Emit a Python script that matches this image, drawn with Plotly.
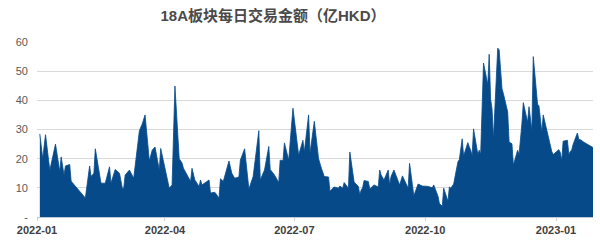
import plotly.graph_objects as go

dates = [
    "2022-01-03","2022-01-05","2022-01-07","2022-01-10","2022-01-14","2022-01-17","2022-01-18","2022-01-20","2022-01-21","2022-01-24","2022-01-25",
    "2022-02-04","2022-02-07","2022-02-08","2022-02-10","2022-02-11","2022-02-15","2022-02-18","2022-02-21","2022-02-22","2022-02-25","2022-02-28",
    "2022-03-02","2022-03-03","2022-03-04","2022-03-07","2022-03-10","2022-03-14","2022-03-16","2022-03-18","2022-03-21","2022-03-23","2022-03-25","2022-03-28","2022-03-29",
    "2022-04-04","2022-04-06","2022-04-08","2022-04-11","2022-04-13","2022-04-14","2022-04-19","2022-04-20","2022-04-22","2022-04-25","2022-04-26","2022-04-27",
    "2022-05-02","2022-05-03","2022-05-06","2022-05-09","2022-05-10","2022-05-12","2022-05-16","2022-05-18","2022-05-20","2022-05-23","2022-05-24","2022-05-27","2022-05-30",
    "2022-06-02","2022-06-06","2022-06-07","2022-06-10","2022-06-13","2022-06-14","2022-06-17","2022-06-20","2022-06-21","2022-06-23","2022-06-24","2022-06-27","2022-06-30",
    "2022-07-04","2022-07-07","2022-07-08","2022-07-11","2022-07-12","2022-07-15","2022-07-18","2022-07-20","2022-07-22","2022-07-25","2022-07-26","2022-07-29",
    "2022-08-01","2022-08-02","2022-08-04","2022-08-05","2022-08-08","2022-08-09","2022-08-12","2022-08-15","2022-08-16","2022-08-17","2022-08-18","2022-08-19","2022-08-22","2022-08-23","2022-08-24","2022-08-26","2022-08-29","2022-08-30","2022-08-31",
    "2022-09-02","2022-09-05","2022-09-06","2022-09-07","2022-09-09","2022-09-13","2022-09-15","2022-09-19","2022-09-20","2022-09-22","2022-09-23","2022-09-26","2022-09-29",
    "2022-10-03","2022-10-05","2022-10-06","2022-10-07","2022-10-10","2022-10-11","2022-10-13","2022-10-14","2022-10-17","2022-10-18","2022-10-19","2022-10-21","2022-10-24","2022-10-25","2022-10-27","2022-10-28","2022-10-31",
    "2022-11-01","2022-11-02","2022-11-03","2022-11-04","2022-11-07","2022-11-08","2022-11-09","2022-11-10","2022-11-11","2022-11-14","2022-11-15","2022-11-16","2022-11-17","2022-11-18","2022-11-21","2022-11-22","2022-11-23","2022-11-24","2022-11-25","2022-11-28","2022-11-29","2022-11-30",
    "2022-12-01","2022-12-02","2022-12-05","2022-12-06","2022-12-07","2022-12-08","2022-12-09","2022-12-12","2022-12-13","2022-12-14","2022-12-15","2022-12-16","2022-12-19","2022-12-20","2022-12-21","2022-12-22","2022-12-23","2022-12-28","2022-12-29","2022-12-30",
    "2023-01-03","2023-01-04","2023-01-05","2023-01-06","2023-01-09","2023-01-10","2023-01-11","2023-01-12","2023-01-13","2023-01-16","2023-01-17","2023-01-18","2023-01-19","2023-01-20","2023-01-26","2023-01-27",
]

turnover = [
    28.5,20.0,28.2,16.0,25.0,15.6,20.6,14.4,17.5,18.0,12.3,
    6.5,17.5,13.9,15.0,23.4,11.6,11.6,17.2,11.6,16.3,15.0,
    9.9,9.9,14.4,16.1,13.3,29.6,31.9,35.0,19.2,22.9,24.0,16.1,23.5,
    9.9,11.0,44.9,20.0,18.5,16.7,12.2,16.7,12.7,10.5,12.7,11.0,
    12.7,8.2,8.5,6.5,13.1,12.2,19.2,15.0,13.3,13.7,19.5,23.4,9.6,
    13.9,29.6,12.7,16.1,24.2,16.3,14.4,11.8,19.5,19.3,25.4,19.5,37.3,
    21.2,26.3,22.3,35.0,21.8,32.8,20.0,16.7,13.9,13.7,8.8,10.3,
    9.9,10.6,9.9,11.8,9.9,22.3,12.0,10.5,7.6,9.3,10.0,12.5,12.2,9.6,10.1,11.0,10.3,16.1,14.4,
    12.7,16.1,11.0,13.9,16.1,11.0,14.1,9.9,18.4,11.0,7.3,11.3,10.6,
    10.5,10.3,10.0,11.0,7.1,4.6,3.7,9.9,5.4,10.3,9.9,11.3,18.9,19.7,26.8,21.0,25.5,
    24.0,22.9,21.0,30.2,21.5,22.9,21.5,35.0,52.8,45.4,55.8,40.4,37.0,26.8,57.9,57.3,48.8,44.0,42.3,36.0,25.7,25.5,
    25.1,17.8,22.9,21.4,26.0,32.0,39.2,32.5,37.8,33.0,29.6,55.0,38.7,38.1,34.0,29.1,35.0,24.0,22.5,21.4,
    23.1,22.1,19.3,26.0,26.3,21.4,22.5,22.9,24.9,28.8,26.7,26.5,26.3,25.8,24.3,23.8,
]

x_tick_vals = ["2022-01-01", "2022-04-01", "2022-07-01", "2022-10-01", "2023-01-01"]
x_tick_text = ["2022-01", "2022-04", "2022-07", "2022-10", "2023-01"]
y_tick_vals = [0, 10, 20, 30, 40, 50, 60]
y_tick_text = ["-", "10", "20", "30", "40", "50", "60"]
title_text = "<b>18A板块每日交易金额（亿HKD）</b>"

fig = go.Figure(go.Scatter(
    x=dates, y=turnover, mode="lines", fill="tozeroy",
    line=dict(color="#064a8a", width=0.8), fillcolor="#064a8a",
    hoverinfo="skip",
))

fig.update_layout(
    width=600, height=243,
    margin=dict(l=37, r=7, t=42, b=24),
    paper_bgcolor="white", plot_bgcolor="white",
    showlegend=False,
    font=dict(family="Liberation Sans, Arial, Noto Sans CJK SC", color="#595959", size=11),
    title=dict(text=title_text, x=273/600, xanchor="center", y=1-16/243, yanchor="middle",
               font=dict(family="Liberation Sans, Noto Sans CJK SC", size=15, color="#4a4a4a")),
    xaxis=dict(
        type="date", range=["2022-01-01", "2023-01-27"],
        tickmode="array", tickvals=x_tick_vals, ticktext=x_tick_text,
        showgrid=False, zeroline=False,
        showline=True, linecolor="#bfc9d6", linewidth=1,
        ticks="outside", ticklen=3, tickcolor="#d0d0d0",
        tickfont=dict(family="Liberation Sans, Arial", size=11, color="#404040", weight="bold"),
    ),
    yaxis=dict(
        range=[0, 60], tickmode="array", tickvals=y_tick_vals, ticktext=y_tick_text,
        showgrid=True, gridcolor="#d9d9d9", gridwidth=1, zeroline=False,
        showline=False, ticks="", ticklabelstandoff=8,
        tickfont=dict(family="Liberation Sans, Arial", size=11, color="#595959"),
    ),
)

fig.write_html("out.html")
